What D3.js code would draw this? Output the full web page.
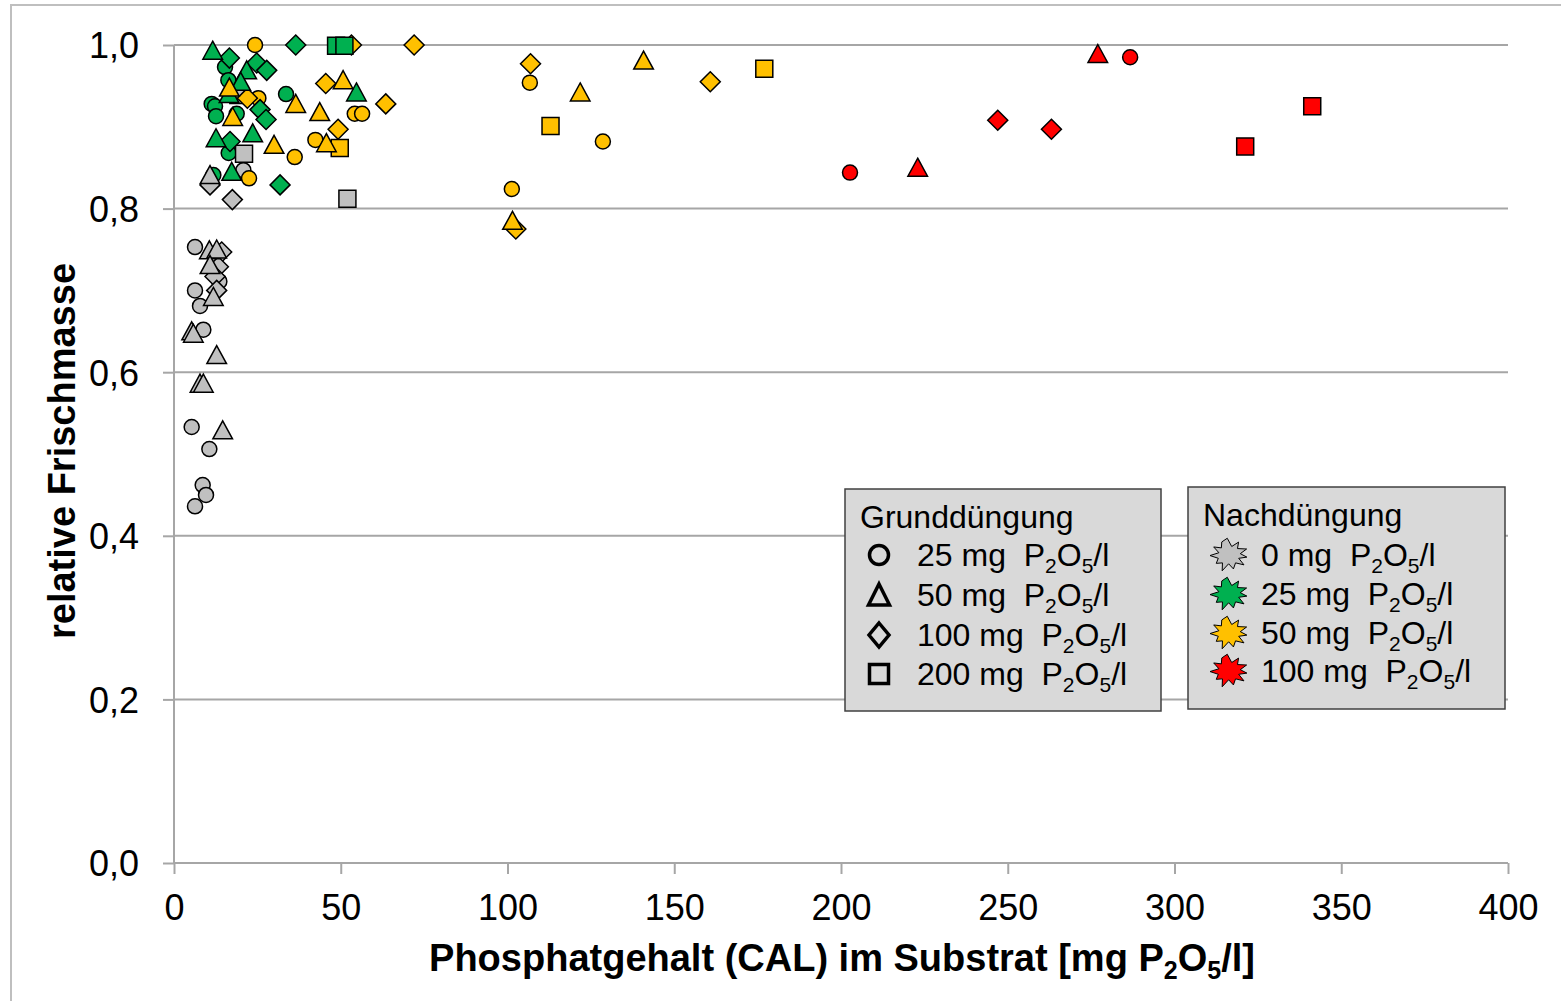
<!DOCTYPE html>
<html><head><meta charset="utf-8">
<script src="https://cdn.jsdelivr.net/npm/d3@7"></script>
<style>
body{margin:0;background:#fff}
svg{display:block}
text{font-family:"Liberation Sans",Arial,sans-serif;fill:#000}
</style>
</head><body>
<svg id="c" width="1561" height="1001"></svg>
<script>
// ---------- data ----------
const xTicks = [0, 50, 100, 150, 200, 250, 300, 350, 400];
const yTicks = [0, 0.2, 0.4, 0.6, 0.8, 1.0];
const yTickLabels = ["0,0", "0,2", "0,4", "0,6", "0,8", "1,0"];
const grundLabels = ["25", "50", "100", "200"];      // circle, triangle, diamond, square
const grundShapes = ["circle", "triangle", "diamond", "square"];
const nachLabels = ["0", "25", "50", "100"];
const nachColors = ["#c0c0c0", "#00b050", "#ffc000", "#ff0000"];

// [Phosphatgehalt, relative Frischmasse]
const gray_circle = [[6.3,0.753],[6.3,0.700],[7.8,0.681],[8.8,0.652],[5.3,0.533],[10.6,0.506],[8.6,0.462],[9.6,0.450],[6.3,0.436],[13.6,0.711],[20.8,0.847]];
const green_circle = [[15.3,0.973],[16.3,0.957],[11.3,0.928],[12.3,0.925],[12.6,0.913],[18.8,0.916],[16.4,0.868],[11.8,0.841],[33.6,0.940]];
const yellow_circle = [[24.3,1.0],[25.3,0.935],[36.2,0.863],[42.4,0.884],[54.2,0.916],[56.4,0.916],[22.5,0.837],[106.7,0.954],[128.6,0.882],[101.3,0.824]];
const red_circle = [[202.7,0.844],[286.7,0.985]];

const gray_triangle = [[10.6,0.749],[12.8,0.750],[10.8,0.731],[11.8,0.692],[5.3,0.650],[5.8,0.647],[12.8,0.621],[7.8,0.586],[8.8,0.586],[14.6,0.529],[10.8,0.841]];
const green_triangle = [[11.6,0.993],[21.8,0.969],[20.0,0.955],[16.5,0.940],[12.6,0.886],[23.6,0.892],[17.3,0.845],[54.7,0.942]];
const yellow_triangle = [[16.6,0.948],[17.6,0.912],[36.5,0.928],[43.7,0.918],[50.7,0.957],[30.0,0.878],[45.7,0.880],[140.8,0.981],[121.8,0.942],[101.5,0.785]];
const red_triangle = [[223.0,0.850],[277.0,0.989]];

const gray_diamond = [[14.3,0.747],[13.3,0.729],[12.3,0.717],[12.8,0.700],[10.8,0.829],[17.5,0.811]];
const green_diamond = [[16.6,0.984],[24.8,0.978],[27.8,0.969],[25.8,0.921],[27.6,0.909],[16.8,0.882],[31.8,0.829],[36.5,1.0]];
const yellow_diamond = [[53.2,1.0],[72.0,1.0],[22.0,0.935],[45.5,0.953],[63.5,0.928],[49.2,0.897],[106.9,0.977],[160.8,0.955],[102.5,0.775]];
const red_diamond = [[247.0,0.908],[263.1,0.897]];

const gray_square = [[19.3,0.939],[21.0,0.867],[52.0,0.812]];
const green_square = [[48.6,0.999],[51.1,0.999]];
const yellow_square = [[49.7,0.874],[112.9,0.901],[177.0,0.971]];
const red_square = [[321.2,0.876],[341.3,0.925]];

// series table: rows = Grunddüngung (shape), columns = Nachdüngung (colour)
const seriesTable = [
  [gray_circle, green_circle, yellow_circle, red_circle],
  [gray_triangle, green_triangle, yellow_triangle, red_triangle],
  [gray_diamond, green_diamond, yellow_diamond, red_diamond],
  [gray_square, green_square, yellow_square, red_square]
];
// drawing order of the series [grund index, nach index]
const drawOrder = [[0,0],[0,1],[0,2],[0,3],[3,0],[2,0],[2,1],[2,2],[2,3],[3,1],[3,2],[3,3],[1,0],[1,1],[1,2],[1,3]];

// ---------- layout ----------
const svg = d3.select("#c");
const m = {left: 174, right: 1508, top: 45, bottom: 863};
const x = d3.scaleLinear().domain([0, 400]).range([m.left, m.right]);
const y = d3.scaleLinear().domain([0, 1]).range([m.bottom, m.top]);
const gridCol = "#a6a6a6";
const FONT = '"Liberation Sans",Arial,sans-serif';

// outer chart border
svg.append("rect").attr("x", 11).attr("y", 5).attr("width", 1600).attr("height", 1100)
  .attr("fill", "none").attr("stroke", "#bfbfbf").attr("stroke-width", 2);

// gridlines
svg.append("g").selectAll("line").data(yTicks.filter(d => d > 0)).join("line")
  .attr("x1", m.left).attr("x2", m.right)
  .attr("y1", d => y(d)).attr("y2", d => y(d))
  .attr("stroke", gridCol).attr("stroke-width", 2);

// axes
const xAxis = d3.axisBottom(x).tickValues(xTicks).tickSize(11).tickPadding(20).tickFormat(d3.format("d"));
const gx = svg.append("g").attr("transform", `translate(0,${m.bottom})`).call(xAxis);
gx.select(".domain").attr("stroke", gridCol).attr("stroke-width", 2).attr("d", `M${m.left},0H${m.right}`);
gx.selectAll(".tick line").attr("stroke", gridCol).attr("stroke-width", 2);
gx.selectAll(".tick text").attr("font-size", 36).attr("font-family", FONT).attr("fill", "#000").attr("dy", "0.71em");

const yAxis = d3.axisLeft(y).tickValues(yTicks).tickSize(11).tickPadding(24).tickFormat((d, i) => yTickLabels[i]);
const gy = svg.append("g").attr("transform", `translate(${m.left},0)`).call(yAxis);
gy.select(".domain").attr("stroke", gridCol).attr("stroke-width", 2).attr("d", `M0,${m.bottom}V${m.top}`);
gy.selectAll(".tick line").attr("stroke", gridCol).attr("stroke-width", 2);
gy.selectAll(".tick text").attr("font-size", 36).attr("font-family", FONT).attr("fill", "#000").attr("dy", "0.36em");

// axis titles
const xt = svg.append("text").attr("x", (m.left + m.right) / 2 + 1).attr("y", 971)
  .attr("text-anchor", "middle").attr("font-size", 38).attr("font-weight", "bold");
xt.append("tspan").text("Phosphatgehalt (CAL) im Substrat [mg P");
xt.append("tspan").text("2").attr("font-size", 25).attr("dy", 8);
xt.append("tspan").text("O").attr("dy", -8);
xt.append("tspan").text("5").attr("font-size", 25).attr("dy", 8);
xt.append("tspan").text("/l]").attr("dy", -8);

svg.append("text").attr("transform", `translate(75,${(m.top + m.bottom) / 2 - 3}) rotate(-90)`)
  .attr("text-anchor", "middle").attr("font-size", 38).attr("font-weight", "bold")
  .text("relative Frischmasse");

// ---------- markers ----------
function shapePath(shape) {
  const p = d3.path();
  if (shape === "circle") { p.arc(0, 0, 7.5, 0, 2 * Math.PI); }
  else if (shape === "triangle") { p.moveTo(0, -9.5); p.lineTo(9.8, 8.5); p.lineTo(-9.8, 8.5); p.closePath(); }
  else if (shape === "diamond") { p.moveTo(0, -10); p.lineTo(10, 0); p.lineTo(0, 10); p.lineTo(-10, 0); p.closePath(); }
  else { p.rect(-8.5, -8.5, 17, 17); }
  return p.toString();
}

const gm = svg.append("g");
drawOrder.forEach(([gi, ni]) => {
  gm.append("g").selectAll("path").data(seriesTable[gi][ni]).join("path")
    .attr("d", shapePath(grundShapes[gi]))
    .attr("transform", d => `translate(${x(d[0])},${y(d[1])})`)
    .attr("fill", nachColors[ni]).attr("stroke", "#000").attr("stroke-width", 1.5);
});

// ---------- legends ----------
function labelWithSub(g, tx, ty, num) {
  const t = g.append("text").attr("x", tx).attr("y", ty).attr("font-size", 32)
    .style("white-space", "pre");
  t.append("tspan").text(num + " mg  P");
  t.append("tspan").text("2").attr("font-size", 21).attr("dy", 7);
  t.append("tspan").text("O").attr("dy", -7);
  t.append("tspan").text("5").attr("font-size", 21).attr("dy", 7);
  t.append("tspan").text("/l").attr("dy", -7);
}

// Grunddüngung
const L1 = svg.append("g");
L1.append("rect").attr("x", 845).attr("y", 489).attr("width", 316).attr("height", 222)
  .attr("fill", "#d9d9d9").attr("stroke", "#404040").attr("stroke-width", 1.5);
L1.append("text").attr("x", 860).attr("y", 528).attr("font-size", 32).text("Grunddüngung");
const l1Rows = [555, 595, 635, 674];
const legShape = {
  circle: () => { const p = d3.path(); p.arc(0, 0, 9.5, 0, 2 * Math.PI); return p.toString(); },
  triangle: () => "M0,-11L10.5,10L-10.5,10Z",
  diamond: () => "M0,-12L10,0L0,12L-10,0Z",
  square: () => "M-9.5,-9.5H9.5V9.5H-9.5Z"
};
grundLabels.forEach((lab, i) => {
  L1.append("path").attr("d", legShape[grundShapes[i]]())
    .attr("transform", `translate(879,${l1Rows[i]})`)
    .attr("fill", "none").attr("stroke", "#000").attr("stroke-width", 3.5);
  labelWithSub(L1, 917, l1Rows[i] + 11, lab);
});

// Nachdüngung
const L2 = svg.append("g");
L2.append("rect").attr("x", 1188).attr("y", 487).attr("width", 317).attr("height", 222)
  .attr("fill", "#d9d9d9").attr("stroke", "#404040").attr("stroke-width", 1.5);
L2.append("text").attr("x", 1203).attr("y", 526).attr("font-size", 32).text("Nachdüngung");
const l2Rows = [555, 594, 633, 671];
// irregular "explosion" outline: [angle in degrees, relative radius]
const burst = [[-95,1.05],[-75,0.55],[-58,0.95],[-42,0.6],[-22,1.0],[-8,0.6],[8,0.95],[22,0.55],[38,1.0],[55,0.6],[75,0.9],[92,0.55],[110,1.05],[125,0.6],[142,0.85],[160,0.6],[178,1.0],[195,0.55],[212,0.95],[228,0.6],[245,0.9]];
function burstPath(rx, ry) {
  const pts = burst.map(([a, r]) => {
    const t = a * Math.PI / 180;
    return [Math.cos(t) * rx * r, Math.sin(t) * ry * r];
  });
  return d3.line()(pts) + "Z";
}
nachLabels.forEach((lab, i) => {
  L2.append("path").attr("d", burstPath(19, 16))
    .attr("transform", `translate(1229,${l2Rows[i]})`)
    .attr("fill", nachColors[i]).attr("stroke", "#000").attr("stroke-width", 1);
  labelWithSub(L2, 1261, l2Rows[i] + 11, lab);
});
</script>
</body></html>
